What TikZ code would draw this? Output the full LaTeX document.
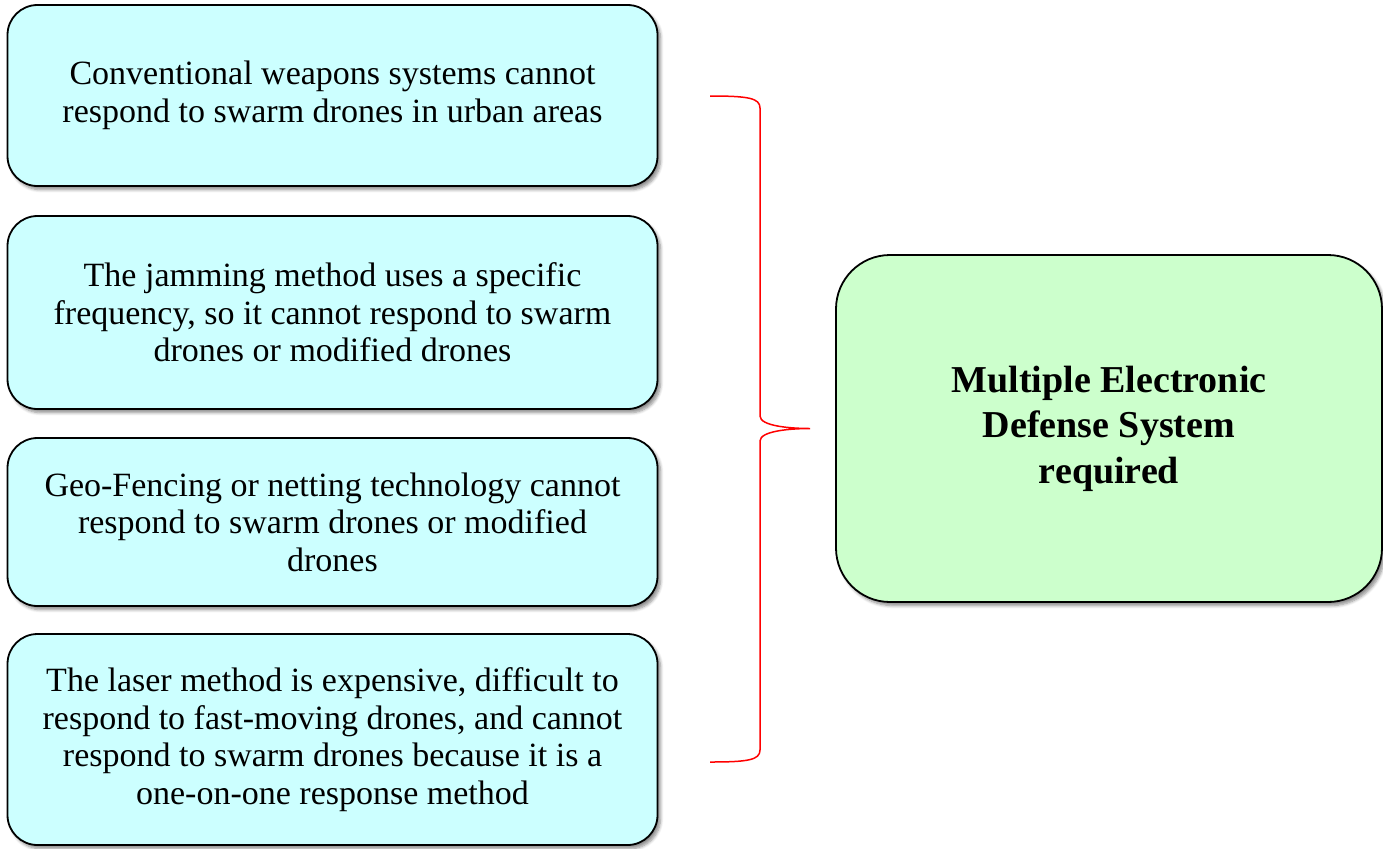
\documentclass[tikz,border=0pt]{standalone}
\usepackage{fontspec}
\setmainfont{Liberation Serif}
\usetikzlibrary{shadows.blur}

\definecolor{boxcyan}{HTML}{CCFFFF}
\definecolor{boxgreen}{HTML}{CCFFCC}

\begin{document}
\begin{tikzpicture}[x=0.5pt,y=-0.5pt,line width=0.9pt,
  softshadow/.style={blur shadow={shadow xshift=1.5pt,shadow yshift=-1.8pt,shadow blur radius=1.5pt,shadow blur steps=6,shadow opacity=45}},
  reason/.style={draw,fill=boxcyan,rounded corners=15pt,minimum width=325pt,
    align=center,font=\fontsize{17}{18.8}\selectfont,softshadow},
  result/.style={draw,fill=boxgreen,rounded corners=27pt,minimum width=273pt,
    minimum height=173.5pt,align=center,font=\fontsize{19}{22.8}\selectfont\bfseries,softshadow},
  bracket/.style={draw=red,line width=0.75pt}]
  \useasboundingbox (0,0) rectangle (1383,848);
  % the four reasons, stacked on the left
  \foreach \cy/\bh/\txt [count=\i] in {%
    95.5/181/{Conventional weapons systems cannot\\respond to swarm drones in urban areas},
    312.5/193/{The jamming method uses a specific\\frequency, so it cannot respond to swarm\\drones or modified drones},
    522/168/{Geo-Fencing or netting technology cannot\\respond to swarm drones or modified\\drones},
    739.5/211/{The laser method is expensive, difficult to\\respond to fast-moving drones, and cannot\\respond to swarm drones because it is a\\one-on-one response method}}{%
    \node[reason,minimum height=\bh*0.5pt] (R-\i) at (332.5,\cy) {\txt};
  }
  \node[result] (need) at (1109,428.5) {Multiple Electronic\\Defense System\\required};
  % curly bracket gathering the reasons
  \coordinate (top) at (710,96);
  \coordinate (bot) at (710,762);
  \coordinate (tip) at (810,428.5);
  \draw[bracket] (top) .. controls (748,96) and (760,98) .. (760,108) -- (760,416)
    .. controls (760,426) and (790,428.5) .. (tip)
    .. controls (790,428.5) and (760,431) .. (760,441) -- (760,750)
    .. controls (760,760) and (748,762) .. (bot);
\end{tikzpicture}
\end{document}
